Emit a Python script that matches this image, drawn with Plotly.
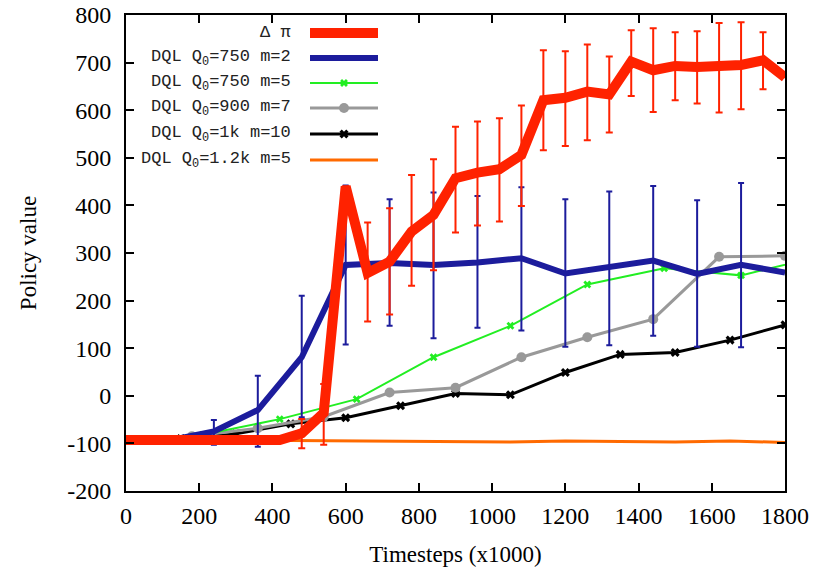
import plotly.graph_objects as go

# ---------------- data ----------------
red_x = [0, 60, 120, 180, 240, 300, 360, 420, 480, 540, 600, 660, 720, 780, 840, 900, 960, 1020,
         1080, 1140, 1200, 1260, 1320, 1380, 1440, 1500, 1560, 1620, 1680, 1740, 1800]
red_y = [-93, -93, -93, -93, -93, -93, -93, -93, -79, -36, 440, 258, 282, 345, 380, 457, 469, 476,
         506, 621, 626, 639, 633, 702, 684, 693, 691, 691, 695, 705, 669]
red_hi = [None, None, None, None, None, None, None, None, -49, 25, None, 364, 394, 464, 497, 565, 576, 583,
          610, 726, 724, 738, 713, 768, 772, 764, 766, 783, 785, 764, None]
red_lo = [None, None, None, None, None, None, None, None, -110, -103, None, 156, 171, 231, 264, 343, 358, 366,
          399, 516, 525, 537, 553, 630, 596, 621, 614, 595, 602, 644, None]

blue_x = [0, 120, 240, 360, 480, 600, 720, 840, 960, 1080, 1200, 1320, 1440, 1560, 1680, 1800]
blue_y = [-93, -93, -75, -30, 81, 275, 279, 275, 280, 289, 257, 269, 284, 256, 275, 259]
blue_hi = [None, None, -51, 42, 210, 442, 413, 427, 420, 438, 413, 429, 441, 411, 447, None]
blue_lo = [None, None, -103, -107, -45, 108, 147, 121, 143, 137, 103, 106, 126, 103, 102, None]

green_x = [0, 210, 420, 630, 840, 1050, 1260, 1470, 1680, 1890]
green_y = [-93, -82, -49, -7, 81, 147, 234, 268, 253, 292]

gray_x = [0, 180, 360, 540, 720, 900, 1080, 1260, 1440, 1620, 1800]
gray_y = [-93, -85, -68, -44, 7, 17, 81, 123, 161, 292, 294]

black_x = [0, 150, 300, 450, 600, 750, 900, 1050, 1200, 1350, 1500, 1650, 1800]
black_y = [-93, -90, -80, -59, -46, -21, 5, 2, 49, 87, 91, 117, 149]

orange_x = [0, 150, 300, 450, 600, 750, 900, 1050, 1200, 1350, 1500, 1650, 1800]
orange_y = [-92, -92, -93, -94, -95, -96, -97, -97, -95, -96, -97, -95, -98]

legend_labels = ["\u0394 \u03c0", "DQL Q<sub>0</sub>=750 m=2", "DQL Q<sub>0</sub>=750 m=5",
                 "DQL Q<sub>0</sub>=900 m=7", "DQL Q<sub>0</sub>=1k m=10", "DQL Q<sub>0</sub>=1.2k m=5"]

x_ticks = [0, 200, 400, 600, 800, 1000, 1200, 1400, 1600, 1800]
y_ticks = [-200, -100, 0, 100, 200, 300, 400, 500, 600, 700, 800]

# ---------------- styles ----------------
RED = "#ff2200"
BLUE = "#1c1c9c"
GREEN = "#22ee22"
GRAY = "#999999"
BLACK = "#000000"
ORANGE = "#ff6a00"
SERIF = "Liberation Serif, Times New Roman, serif"


def err(y, hi, lo):
    plus = [(h - v) if h is not None else 0 for v, h in zip(y, hi)]
    minus = [(v - l) if l is not None else 0 for v, l in zip(y, lo)]
    return plus, minus


fig = go.Figure()

fig.add_trace(go.Scatter(x=orange_x, y=orange_y, mode="lines",
                         line=dict(color=ORANGE, width=3), showlegend=False))
fig.add_trace(go.Scatter(x=black_x, y=black_y, mode="lines+markers",
                         line=dict(color=BLACK, width=3),
                         marker=dict(symbol="x", size=8, color=BLACK), showlegend=False))
fig.add_trace(go.Scatter(x=gray_x, y=gray_y, mode="lines+markers",
                         line=dict(color=GRAY, width=3),
                         marker=dict(symbol="circle", size=10, color=GRAY), showlegend=False))
fig.add_trace(go.Scatter(x=green_x, y=green_y, mode="lines+markers",
                         line=dict(color=GREEN, width=2),
                         marker=dict(symbol="x", size=7, color=GREEN), showlegend=False))
bp, bm = err(blue_y, blue_hi, blue_lo)
fig.add_trace(go.Scatter(x=blue_x, y=blue_y, mode="lines",
                         line=dict(color=BLUE, width=6),
                         error_y=dict(type="data", array=bp, arrayminus=bm, symmetric=False,
                                      color=BLUE, thickness=2, width=3),
                         showlegend=False))
rp, rm = err(red_y, red_hi, red_lo)
fig.add_trace(go.Scatter(x=red_x, y=red_y, mode="lines",
                         line=dict(color=RED, width=10),
                         error_y=dict(type="data", array=rp, arrayminus=rm, symmetric=False,
                                      color=RED, thickness=2, width=3.5),
                         showlegend=False))

# ---------------- custom legend (text left, sample right) ----------------
L, R, T, B = 126, 31, 15, 77
W, H = 816, 568
pw, ph = W - L - R, H - T - B


def px2paper(px, py):
    return (px - L) / pw, (H - B - py) / ph


rows_py = [33, 58, 83, 108, 134, 160]
samples = [
    dict(color=RED, width=10, marker=None),
    dict(color=BLUE, width=6, marker=None),
    dict(color=GREEN, width=2, marker=dict(symbol="x", size=7, color=GREEN)),
    dict(color=GRAY, width=3, marker=dict(symbol="circle", size=10, color=GRAY)),
    dict(color=BLACK, width=3, marker=dict(symbol="x", size=8, color=BLACK)),
    dict(color=ORANGE, width=3, marker=None),
]
for label, py, s in zip(legend_labels, rows_py, samples):
    tx, ty = px2paper(293, py)
    fig.add_annotation(x=tx, y=ty, xref="paper", yref="paper", text=label, showarrow=False,
                       xanchor="right", yanchor="middle",
                       font=dict(family="Liberation Mono", size=17, color="#222222"))
    x0, _ = px2paper(310, py)
    x1, _ = px2paper(378, py)
    xm, _ = px2paper(344, py)
    fig.add_trace(go.Scatter(x=[x0, x1], y=[ty, ty], xaxis="x2", yaxis="y2", mode="lines",
                             line=dict(color=s["color"], width=s["width"]), showlegend=False,
                             hoverinfo="skip"))
    if s["marker"] is not None:
        fig.add_trace(go.Scatter(x=[xm], y=[ty], xaxis="x2", yaxis="y2", mode="markers",
                                 marker=s["marker"], showlegend=False, hoverinfo="skip"))

tick_font = dict(family=SERIF, size=24, color="black")
title_font = dict(family=SERIF, size=23, color="black")
fig.update_layout(
    template="none",
    font=dict(family=SERIF, size=24, color="black"),
    width=W, height=H,
    margin=dict(l=L, r=R, t=T, b=B, pad=0),
    plot_bgcolor="white", paper_bgcolor="white",
    xaxis=dict(range=[0, 1800], tickvals=x_ticks, ticktext=[str(v) for v in x_ticks],
               ticks="inside", ticklen=8, tickwidth=1.5, tickcolor="black",
               showline=True, linecolor="black", linewidth=2, mirror="ticks",
               showgrid=False, zeroline=False, tickfont=tick_font, ticklabelstandoff=2,
               automargin=False,
               title=dict(text="Timesteps (x1000)", font=title_font, standoff=18)),
    yaxis=dict(range=[-200, 800], tickvals=y_ticks, ticktext=[str(v) for v in y_ticks],
               ticks="inside", ticklen=8, tickwidth=1.5, tickcolor="black",
               showline=True, linecolor="black", linewidth=2, mirror="ticks",
               showgrid=False, zeroline=False, tickfont=tick_font, ticklabelstandoff=8,
               automargin=False,
               title=dict(text="Policy value", font=title_font, standoff=24)),
    xaxis2=dict(overlaying="x", range=[0, 1], visible=False, fixedrange=True, automargin=False),
    yaxis2=dict(overlaying="y", range=[0, 1], visible=False, fixedrange=True, automargin=False),
)

fig.write_html("out.html")
